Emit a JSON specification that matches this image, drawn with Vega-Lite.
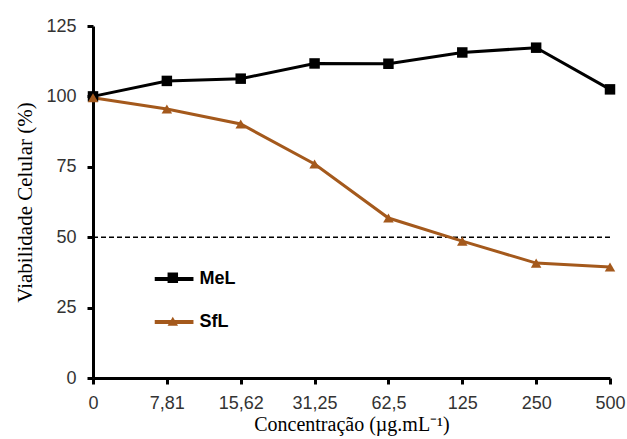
{
  "$schema": "https://vega.github.io/schema/vega-lite/v6.json",
  "width": 517,
  "height": 352,
  "autosize": {"type": "none"},
  "padding": {"left": 93, "top": 26, "right": 17, "bottom": 61},
  "background": "white",
  "config": {
    "view": {"stroke": null},
    "axis": {"grid": false}
  },
  "datasets": {
    "series": [
      {"conc": "0", "serie": "MeL", "viab": 100},
      {"conc": "7,81", "serie": "MeL", "viab": 105.5},
      {"conc": "15,62", "serie": "MeL", "viab": 106.3},
      {"conc": "31,25", "serie": "MeL", "viab": 111.7},
      {"conc": "62,5", "serie": "MeL", "viab": 111.6},
      {"conc": "125", "serie": "MeL", "viab": 115.6},
      {"conc": "250", "serie": "MeL", "viab": 117.3},
      {"conc": "500", "serie": "MeL", "viab": 102.5},
      {"conc": "0", "serie": "SfL", "viab": 99.5},
      {"conc": "7,81", "serie": "SfL", "viab": 95.5},
      {"conc": "15,62", "serie": "SfL", "viab": 90.2},
      {"conc": "31,25", "serie": "SfL", "viab": 76},
      {"conc": "62,5", "serie": "SfL", "viab": 56.8},
      {"conc": "125", "serie": "SfL", "viab": 48.6},
      {"conc": "250", "serie": "SfL", "viab": 40.8},
      {"conc": "500", "serie": "SfL", "viab": 39.4}
    ],
    "ref": [{"y": 50}]
  },
  "layer": [
    {
      "data": {"name": "ref"},
      "mark": {"type": "rule", "strokeDash": [5, 3], "strokeWidth": 1.5, "color": "black"},
      "encoding": {"y": {"field": "y", "type": "quantitative"}}
    },
    {
      "data": {"name": "series"},
      "mark": {"type": "line", "strokeWidth": 3},
      "encoding": {
        "x": {
          "field": "conc", "type": "ordinal", "sort": null,
          "scale": {"type": "point", "padding": 0},
          "axis": {
            "title": "Concentração (µg.mL⁻¹)",
            "labelAngle": 0,
            "labelFont": "Liberation Sans Narrow, Liberation Sans",
            "labelFontSize": 18,
            "labelColor": "#333",
            "labelPadding": 10,
            "tickSize": 6, "tickWidth": 3, "tickColor": "black",
            "domainWidth": 3, "domainColor": "black",
            "titleFont": "Liberation Serif",
            "titleFontSize": 20,
            "titleFontWeight": "normal",
            "titleColor": "black",
            "titlePadding": 2
          }
        },
        "y": {
          "field": "viab", "type": "quantitative",
          "scale": {"domain": [0, 125], "nice": false},
          "axis": {
            "title": "Viabilidade Celular (%)",
            "values": [0, 25, 50, 75, 100, 125],
            "labelFont": "Liberation Sans Narrow, Liberation Sans",
            "labelFontSize": 18,
            "labelColor": "#333",
            "labelPadding": 11,
            "tickSize": 6, "tickWidth": 3, "tickColor": "black",
            "domainWidth": 3, "domainColor": "black",
            "titleFont": "Liberation Serif",
            "titleFontSize": 21,
            "titleFontWeight": "normal",
            "titleColor": "black",
            "titlePadding": 10
          }
        },
        "stroke": {
          "field": "serie", "type": "nominal",
          "scale": {"domain": ["MeL", "SfL"], "range": ["black", "#a4591c"]},
          "legend": {
            "title": null,
            "orient": "none",
            "legendX": 59.6,
            "legendY": 231.6,
            "symbolType": "stroke",
            "symbolSize": 1500,
            "symbolStrokeWidth": 4,
            "labelFont": "Liberation Sans",
            "labelFontWeight": "bold",
            "labelFontSize": 18,
            "labelColor": "black",
            "labelOffset": 4,
            "rowPadding": 12,
            "padding": 0
          }
        }
      }
    },
    {
      "data": {"name": "series"},
      "mark": {"type": "point", "filled": true, "opacity": 1, "size": 110},
      "encoding": {
        "x": {"field": "conc", "type": "ordinal", "sort": null},
        "y": {"field": "viab", "type": "quantitative"},
        "color": {
          "field": "serie", "type": "nominal",
          "scale": {"range": ["black", "#a4591c"]},
          "legend": {
            "title": null,
            "orient": "none",
            "legendX": 73.8,
            "legendY": 245.75,
            "symbolSize": 110,
            "labelExpr": "''",
            "labelFontSize": 1,
            "rowPadding": 31.5,
            "padding": 0
          }
        },
        "shape": {
          "field": "serie", "type": "nominal",
          "scale": {"range": ["square", "triangle-up"]},
          "legend": null
        }
      }
    }
  ]
}
